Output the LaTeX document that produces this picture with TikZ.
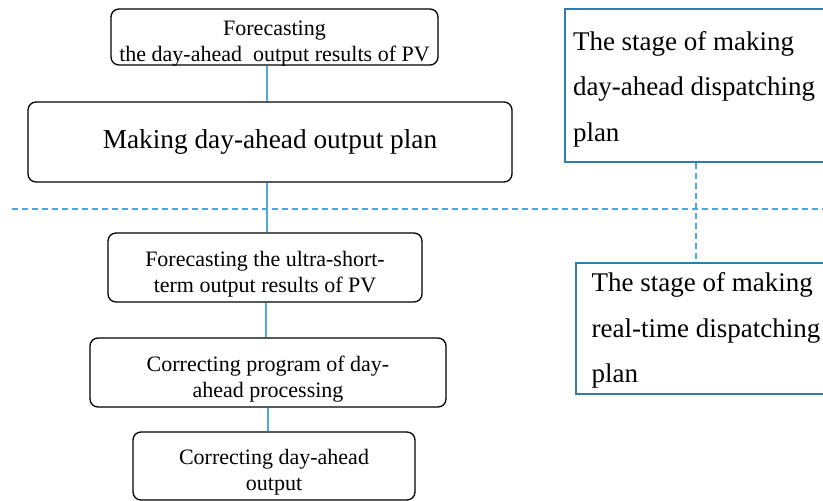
\documentclass[tikz,border=0pt]{standalone}
\usepackage{fontspec}
\setmainfont{Liberation Serif}
\usetikzlibrary{calc}
\definecolor{conn}{HTML}{4FA8DC}
\definecolor{stageblue}{HTML}{2E7DB0}
\tikzset{
  flowbox/.style={draw=black, line width=1.3pt, rounded corners=8pt, align=center, inner sep=0pt, font=\fontsize{22}{26}\selectfont},
  stagebox/.style={draw=stageblue, line width=1.6pt, align=flush left, inner sep=0pt, font=\fontsize{27}{45.7}\selectfont},
  conline/.style={draw=conn, line width=1.4pt},
  dashline/.style={draw=conn, line width=1.4pt, dash pattern=on 6pt off 4pt},
}
\begin{document}
\begin{tikzpicture}[x=1pt,y=-1pt]
\useasboundingbox (0,0) rectangle (823,501);
\node[flowbox, minimum width=327pt, minimum height=56pt, text height=48pt, text depth=0pt] (b1) at (274.5,37) {Forecasting\\the day-ahead\ \ output results of PV};
\node[flowbox, minimum width=484pt, minimum height=80pt, font=\fontsize{27.3}{30}\selectfont, text height=20pt, text depth=6.6pt] (b2) at (270,142) {Making day-ahead output plan};
\node[flowbox, minimum width=314pt, minimum height=69pt, text height=50.4pt, text depth=0pt] (b3) at (265,267.5) {Forecasting the ultra-short-\\term output results of PV};
\node[flowbox, minimum width=356pt, minimum height=69pt, text height=49pt, text depth=0pt] (b4) at (268,372.5) {Correcting program of day-\\ahead processing};
\node[flowbox, minimum width=282pt, minimum height=68pt, text height=48pt, text depth=0pt] (b5) at (274,466) {Correcting day-ahead\\output};
\node[stagebox, minimum width=276pt, minimum height=153pt, text width=260pt, text height=10pt, text depth=81pt] (s1) at (703,85.5) {The stage of making\\day-ahead dispatching\\plan};
\node[stagebox, minimum width=291.4pt, minimum height=131pt, text width=260pt, text height=10pt, text depth=84.4pt] (s2) at (721.7,328.5) {The stage of making\\real-time dispatching\\plan};
\coordinate (c1) at (267,0);
\coordinate (c2) at (266,0);
\coordinate (c3) at (268,0);
\coordinate (cs) at (696,0);
\coordinate (dl) at (12,209);
\coordinate (dr) at (823,209);
\draw[conline] (c1 |- b1.south) -- (c1 |- b2.north);
\draw[conline] (c1 |- b2.south) -- (c1 |- b3.north);
\draw[conline] (c2 |- b3.south) -- (c2 |- b4.north);
\draw[conline] (c3 |- b4.south) -- (c3 |- b5.north);
\draw[dashline] (dl) -- (dr);
\draw[dashline] (cs |- s1.south) -- (cs |- s2.north);
\end{tikzpicture}
\end{document}
